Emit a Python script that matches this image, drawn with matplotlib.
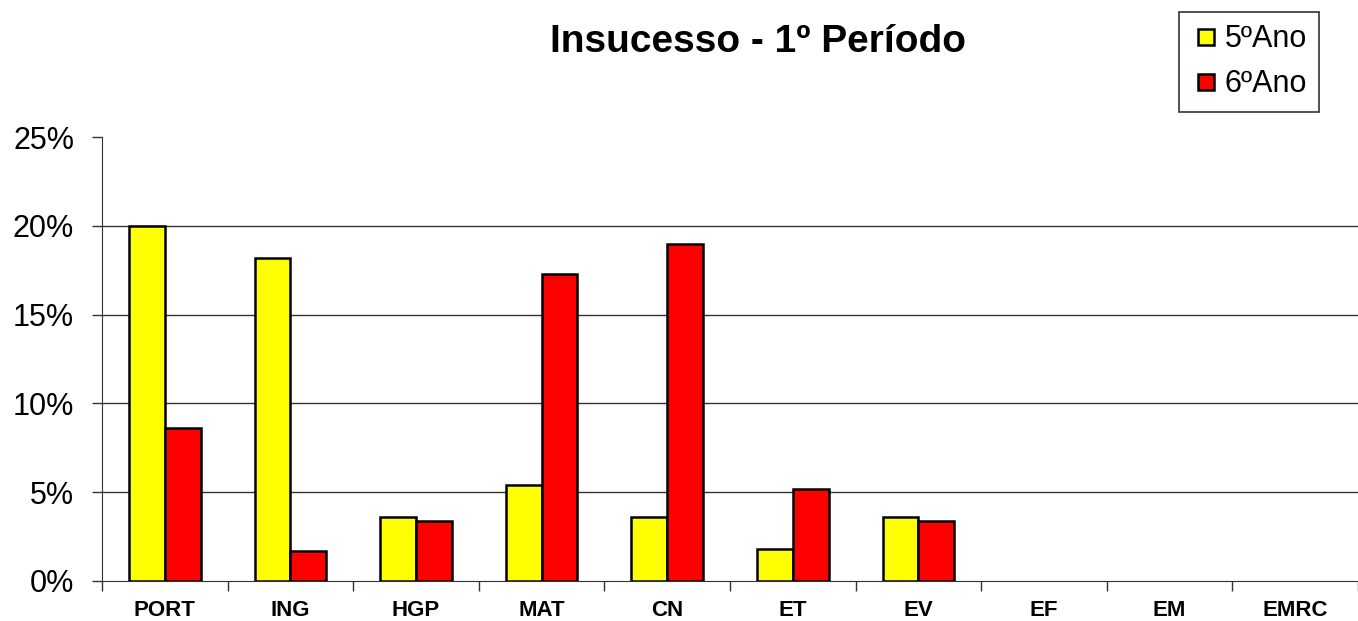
import matplotlib
matplotlib.use("Agg")
import matplotlib.pyplot as plt
import numpy as np
from matplotlib.ticker import FuncFormatter
from matplotlib.lines import Line2D

categories = ["PORT", "ING", "HGP", "MAT", "CN", "ET", "EV", "EF", "EM", "EMRC"]
ano5 = [20.0, 18.2, 3.6, 5.4, 3.6, 1.8, 3.6, 0, 0, 0]
ano6 = [8.6, 1.7, 3.4, 17.3, 19.0, 5.2, 3.4, 0, 0, 0]
series_names = ["5ºAno", "6ºAno"]
series_colors = ["#FFFF00", "#FF0000"]
title = "Insucesso - 1º Período"

fig = plt.figure(figsize=(13.58, 6.21), dpi=100)
ax = fig.add_axes([102/1358, 40/621, 1 - 102/1358, 444/621])

x = np.arange(len(categories))
w = 0.285
lw5 = [1.8 if v > 0 else 0 for v in ano5]
lw6 = [1.8 if v > 0 else 0 for v in ano6]
ax.bar(x - w/2, ano5, w, color=series_colors[0], edgecolor="black", linewidth=lw5, zorder=3)
ax.bar(x + w/2, ano6, w, color=series_colors[1], edgecolor="black", linewidth=lw6, zorder=3)

ax.set_ylim(0, 25)
ax.set_yticks([0, 5, 10, 15, 20, 25])
ax.yaxis.set_major_formatter(FuncFormatter(lambda v, p: f"{int(v)}%"))
ax.set_xlim(-0.5, 9.5 - 11/126.7)
ax.set_xticks(np.arange(-0.5, 10, 1.0))
ax.set_xticklabels([])
ax.set_xticks(x, minor=True)
ax.set_xticklabels(categories, minor=True, fontsize=16, fontweight="bold", family="Liberation Sans")
ax.tick_params(axis="x", which="minor", length=0, pad=14)
ax.tick_params(axis="x", which="major", length=7, width=1, color="#333333", direction="out")
ax.tick_params(axis="y", length=7, width=1, color="#333333", direction="out", labelsize=22, pad=13)
for lab in ax.get_yticklabels():
    lab.set_family("Liberation Sans")

for v in [5, 10, 15, 20]:
    ax.axhline(v, color="#333333", linewidth=1, zorder=1)

for s in ["top", "right"]:
    ax.spines[s].set_visible(False)
ax.spines["left"].set_color("#333333")
ax.spines["bottom"].set_color("#333333")

fig.text(758/1358, 1 - 42/621, title, ha="center", va="center", fontsize=28,
         fontweight="bold", family="Liberation Sans")

handles = [Line2D([], [], linestyle="none", marker="s", markersize=11.5,
                  markerfacecolor=c, markeredgecolor="black", markeredgewidth=1.8)
           for c in series_colors]
leg = fig.legend(handles, series_names, loc="upper left", bbox_to_anchor=(1179/1358, 1 - 12/621),
                 frameon=True, fancybox=False, edgecolor="black",
                 prop={"family": "Liberation Sans", "size": 22},
                 handlelength=0.95, handletextpad=0.15,
                 labelspacing=0.5, borderpad=0.4, borderaxespad=0)
leg.get_frame().set_linewidth(1.2)

fig.savefig("out.png", dpi=100, facecolor="white")
